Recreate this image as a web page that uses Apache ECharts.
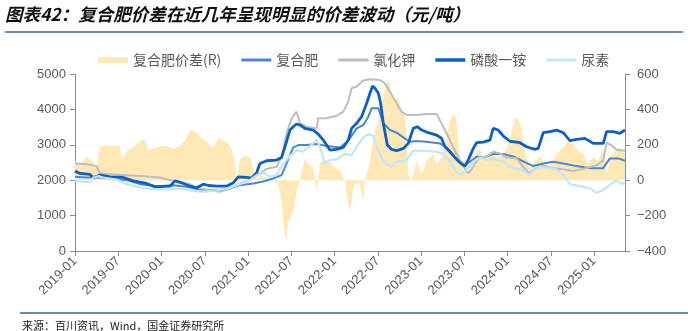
<!DOCTYPE html>
<html><head><meta charset="utf-8">
<script src="https://cdn.jsdelivr.net/npm/echarts@6/dist/echarts.min.js"></script>
<style>html,body{margin:0;padding:0;background:#fff}#c{width:688px;height:331px}</style>
</head><body><div id="c"></div>
<script>
// x = months since 2019-01
const xTickLabels = ['2019-01','2019-07','2020-01','2020-07','2021-01','2021-07','2022-01','2022-07','2023-01','2023-07','2024-01','2024-07','2025-01'];
const seriesNames = ['复合肥价差(R)','复合肥','氯化钾','磷酸一铵','尿素'];

const spread = [[0,110],[0.69,87],[1.62,129],[2.31,110],[3.0,82],[3.47,190],[3.93,195],[4.85,195],[6.24,195],[6.47,110],[7.17,163],[7.86,182],[8.55,201],[9.25,228],[9.71,228],[10.17,171],[10.86,182],[11.79,190],[12.71,195],[13.64,176],[14.56,195],[15.26,224],[15.72,265],[16.18,284],[16.87,271],[17.57,239],[18.49,209],[19.19,182],[19.88,239],[20.57,224],[21.27,209],[21.73,176],[22.19,91],[22.42,6],[22.88,119],[23.58,138],[24.27,129],[24.73,72],[25.2,6],[25.66,25],[26.58,15],[27.51,0],[28.2,-23],[28.66,-118],[28.99,-269],[29.27,-345],[29.59,-231],[29.91,-212],[30.28,-174],[30.74,-61],[31.11,-13],[31.44,53],[31.9,119],[32.36,91],[33.06,72],[33.52,-70],[33.75,0],[33.98,100],[34.91,110],[35.37,110],[35.83,76],[36.75,53],[37.45,-4],[37.91,-136],[38.23,-174],[38.6,-42],[39.07,-13],[39.53,-23],[39.99,-118],[40.22,-4],[40.46,0],[40.92,110],[41.39,243],[42.08,337],[42.77,470],[43.47,574],[43.93,489],[44.38,451],[44.85,470],[45.31,394],[45.77,375],[46.24,34],[46.7,-13],[47.38,110],[48.09,34],[48.77,110],[49.7,148],[50.16,91],[50.62,110],[51.32,186],[52.01,337],[52.47,375],[52.84,356],[53.4,129],[53.86,53],[54.32,110],[54.78,53],[55.48,148],[56.17,176],[56.87,110],[57.56,167],[58.49,129],[59.41,138],[60.33,224],[61.03,356],[61.49,347],[61.95,290],[62.41,167],[63.1,72],[63.8,100],[64.5,138],[65.19,91],[65.88,72],[66.8,148],[67.73,186],[68.42,224],[69.12,205],[69.81,167],[70.5,148],[71.2,91],[71.89,129],[72.58,110],[73.28,186],[73.74,25],[74.2,129],[74.9,167],[75.59,182],[76.29,148]];

const npk = [[0,2096],[1.62,2077],[3.47,2077],[5.32,2049],[7.17,2001],[9.02,1888],[11.33,1831],[13.64,1860],[15.49,1812],[17.34,1737],[19.19,1718],[21.04,1737],[22.88,1860],[24.73,1907],[26.12,1964],[27.51,2049],[28.66,2143],[29.36,2473],[30.28,2926],[30.98,2992],[32.13,2992],[33.52,3021],[34.91,2964],[36.75,2926],[37.91,3115],[39.07,3464],[40.0,3559],[40.69,3795],[41.15,4031],[42.08,4031],[42.77,3606],[43.7,3417],[44.61,3342],[45.54,3209],[46.46,3087],[47.38,3106],[48.77,3087],[50.62,3040],[51.55,2926],[52.47,2709],[53.4,2520],[54.09,2426],[54.78,2520],[55.71,2662],[56.63,2643],[58.02,2738],[59.41,2738],[60.79,2670],[62.18,2530],[63.57,2400],[64.96,2470],[66.34,2520],[67.73,2473],[69.58,2398],[71.43,2340],[73.28,2340],[74.2,2615],[75.36,2615],[76.29,2549]];

const kcl = [[0,2473],[1.62,2454],[3.0,2398],[3.47,2190],[4.85,2171],[7.17,2143],[9.48,2115],[11.79,2077],[12.71,2020],[14.56,1960],[15.95,1890],[16.87,1790],[18.72,1718],[20.11,1671],[21.5,1765],[22.88,1907],[24.27,2001],[25.66,2190],[26.58,2320],[27.97,2379],[28.66,2662],[29.36,3323],[30.05,3748],[30.74,3936],[31.21,3606],[32.13,3512],[33.52,3464],[33.75,3748],[34.91,3748],[35.37,3776],[36.29,3814],[37.22,3936],[37.91,4220],[38.37,4597],[39.07,4644],[40.0,4814],[40.92,4852],[42.3,4833],[42.99,4739],[43.68,4503],[44.61,4172],[45.31,3936],[46.0,3842],[47.38,3842],[48.77,3870],[50.16,3870],[51.09,3512],[51.78,3228],[52.47,2926],[53.17,2662],[53.86,2398],[54.55,2190],[55.25,2379],[55.94,2615],[57.1,2662],[58.02,2804],[58.95,2757],[59.87,2640],[61.26,2620],[62.4,2330],[63.0,2200],[64.03,2330],[64.96,2410],[66.34,2340],[67.73,2310],[69.12,2260],[70.5,2320],[72.35,2420],[73.28,2560],[73.74,3050],[74.43,2990],[75.13,2860],[76.29,2830]];

const map = [[0,2256],[0.69,2190],[2.08,2162],[2.54,2077],[3.47,2143],[4.85,2096],[6.7,2077],[8.09,1982],[9.94,1907],[11.1,1812],[13.18,1831],[13.87,1982],[14.79,1926],[15.95,1831],[16.87,1784],[17.8,1888],[18.49,1850],[19.65,1831],[21.04,1831],[21.96,1926],[22.65,2096],[23.81,2077],[24.5,2058],[25.2,2209],[25.66,2473],[26.58,2549],[27.97,2568],[28.66,2643],[29.13,2945],[29.82,3417],[30.28,3512],[30.74,3587],[31.21,3559],[31.9,3464],[33.06,3417],[33.75,3304],[34.44,3134],[35.37,2851],[36.29,2870],[37.22,2926],[37.91,3134],[38.37,3464],[39.07,3606],[39.76,3795],[40.46,4172],[40.92,4456],[41.29,4663],[41.62,4597],[42.08,4456],[42.4,4172],[42.77,3606],[43.33,2992],[43.93,2870],[44.63,2832],[45.55,2898],[46.24,3040],[46.93,3464],[47.49,3512],[48.09,3417],[49.01,3342],[50.16,3276],[50.86,3181],[51.32,2945],[52.01,2804],[52.94,2587],[53.63,2455],[54.09,2398],[54.55,2568],[55.25,2898],[55.71,3059],[56.63,3078],[57.56,3134],[58.02,3464],[58.71,3417],[59.41,3248],[60.33,3100],[61.72,3059],[62.64,2945],[63.8,2870],[64.26,2898],[64.96,3342],[65.88,3370],[66.81,3417],[67.73,3342],[68.66,3120],[69.58,3153],[70.74,3181],[71.89,3040],[73.28,3040],[73.74,3370],[74.67,3370],[75.59,3323],[76.29,3417]];

const urea = [[0,1982],[1.16,1954],[2.08,1945],[2.54,2077],[3.24,2115],[3.93,2077],[5.78,2020],[7.17,1888],[9.02,1793],[10.86,1737],[12.71,1737],[14.56,1765],[16.41,1699],[17.8,1671],[19.19,1699],[21.04,1765],[22.88,1888],[24.27,2001],[25.2,2143],[26.12,2209],[27.05,2096],[27.97,2143],[28.66,2398],[29.82,2681],[30.74,2851],[31.67,2804],[33.06,3040],[33.52,3153],[33.98,2945],[34.67,2473],[35.37,2568],[36.29,2587],[37.45,2738],[38.37,2709],[39.07,2945],[40.0,3209],[40.69,3304],[41.39,3248],[41.85,2945],[42.54,2615],[43.23,2455],[43.93,2379],[44.61,2520],[46.0,2568],[46.93,2832],[48.3,2832],[50.16,2804],[51.09,2738],[52.01,2520],[52.94,2209],[53.63,2171],[54.32,2285],[55.25,2520],[56.17,2643],[57.1,2568],[58.02,2615],[59.41,2520],[60.5,2370],[62.2,2280],[63.0,2150],[64.3,2370],[65.4,2360],[66.8,2300],[67.73,2150],[68.66,1888],[70.05,1831],[71.43,1765],[72.35,1643],[73.28,1718],[74.2,1870],[75.13,1990],[75.82,1888],[76.29,1954]];

const lineColors = {npk:'#4a86d2', kcl:'#bdbdbd', map:'#0b5fc5', urea:'#c2e5fa', spread:'#fde8b6'};
const axisColor = '#8c8c8c', labelColor = '#595959';
const numFont = '"Liberation Sans", Arial, sans-serif';
const cjkFont = '"Noto Sans CJK SC", sans-serif';
const lineIcon = 'path://M0,0 L30,0 L30,3 L0,3 Z';
const lineIconThick = 'path://M0,0 L30,0 L30,3.5 L0,3.5 Z';

const chart = echarts.init(document.getElementById('c'), null, {renderer:'canvas'});
function lineSeries(name, data, color, width, yIdx) {
  return {name, type:'line', data, yAxisIndex:yIdx, symbol:'none', showSymbol:false,
    lineStyle:{color, width}, itemStyle:{color}, z:3};
}
chart.setOption({
  animation:false,
  grid:{left:75, right:63, top:74, bottom:80, containLabel:false},
  legend:{
    left:93, top:48, itemWidth:30, itemHeight:6, itemGap:20,
    textStyle:{fontSize:14, color:labelColor, fontFamily:cjkFont},
    data:[{name:seriesNames[0], icon:'rect'}, {name:seriesNames[1], icon:lineIcon},
      {name:seriesNames[2], icon:lineIcon}, {name:seriesNames[3], icon:lineIconThick}, {name:seriesNames[4], icon:lineIcon}]
  },
  xAxis:{
    type:'value', min:0, max:76.3, interval:6,
    axisLine:{show:true, lineStyle:{color:axisColor, width:1}},
    axisTick:{show:true, length:5, lineStyle:{color:axisColor}},
    splitLine:{show:false},
    axisLabel:{rotate:45, fontSize:13, color:labelColor, fontFamily:numFont, margin:8, showMaxLabel:false,
      formatter:v => (Math.abs(v/6 - Math.round(v/6))<1e-6 && xTickLabels[Math.round(v/6)]) ? xTickLabels[Math.round(v/6)] : ''}
  },
  yAxis:[
    {type:'value', min:0, max:5000, interval:1000, position:'left',
      axisLine:{show:true, lineStyle:{color:axisColor}}, axisTick:{show:true, length:5, lineStyle:{color:axisColor}},
      splitLine:{show:false}, axisLabel:{fontSize:13, color:labelColor, fontFamily:numFont, margin:9, formatter:v => String(v)}},
    {type:'value', min:-400, max:600, interval:200, position:'right',
      axisLine:{show:true, lineStyle:{color:axisColor}}, axisTick:{show:true, length:5, lineStyle:{color:axisColor}},
      splitLine:{show:false}, axisLabel:{fontSize:13, color:labelColor, fontFamily:numFont, margin:12,
        formatter:v => String(v).replace('-', '\u2212')}}
  ],
  series:[
    {name:seriesNames[0], type:'line', yAxisIndex:1, data:spread, symbol:'none', showSymbol:false,
      lineStyle:{width:0, color:lineColors.spread}, itemStyle:{color:lineColors.spread},
      areaStyle:{color:lineColors.spread, opacity:1, origin:0}, z:1},
    lineSeries(seriesNames[1], npk, lineColors.npk, 2, 0),
    lineSeries(seriesNames[2], kcl, lineColors.kcl, 2, 0),
    lineSeries(seriesNames[3], map, lineColors.map, 2.8, 0),
    lineSeries(seriesNames[4], urea, lineColors.urea, 2.2, 0)
  ],
  graphic:[
    {type:'text', left:5, top:6, style:{text:'图表42：复合肥价差在近几年呈现明显的价差波动（元/吨）',
      fontSize:17.5, fontWeight:'bold', fontStyle:'italic', fontFamily:cjkFont, fill:'#111'}},
    {type:'line', shape:{x1:5, y1:32, x2:683, y2:32}, style:{stroke:'#3b6890', lineWidth:1.5}},
    {type:'line', shape:{x1:20, y1:313, x2:688, y2:313}, style:{stroke:'#3b6890', lineWidth:1.5}},
    {type:'text', left:22, top:320, style:{text:'来源：百川资讯，Wind，国金证券研究所', fontSize:11, fontFamily:cjkFont, fill:'#222'}}
  ]
});
</script>
</body></html>
